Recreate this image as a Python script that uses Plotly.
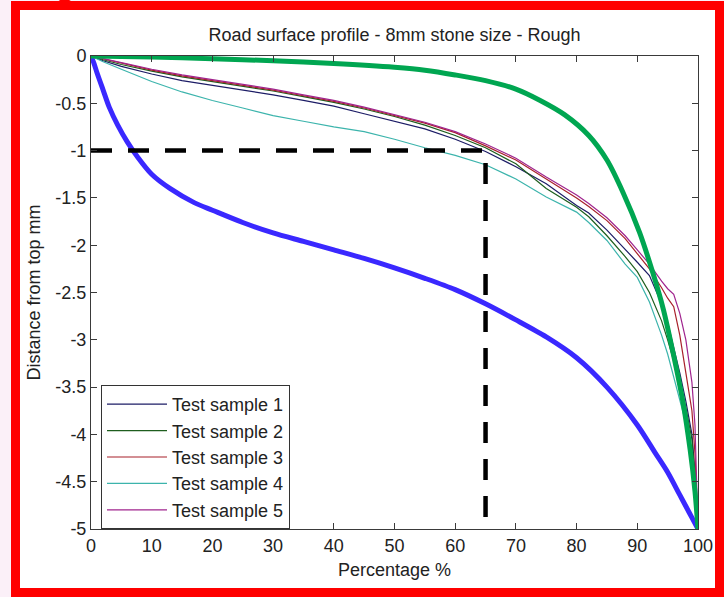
import plotly.graph_objects as go

# ---------------- data ----------------
title_text = "Road surface profile - 8mm stone size - Rough"
x_label = "Percentage %"
y_label = "Distance from top mm"

x_tick_vals = [0, 10, 20, 30, 40, 50, 60, 70, 80, 90, 100]
x_tick_text = ["0", "10", "20", "30", "40", "50", "60", "70", "80", "90", "100"]
y_tick_vals = [0, -0.5, -1, -1.5, -2, -2.5, -3, -3.5, -4, -4.5, -5]
y_tick_text = ["0", "-0.5", "-1", "-1.5", "-2", "-2.5", "-3", "-3.5", "-4", "-4.5", "-5"]

sample_x = [0, 2, 5, 10, 15, 20, 25, 30, 35, 40, 45, 50, 55, 60, 65, 70, 75, 80,
            82, 85, 88, 90, 92, 94, 95, 96, 97, 98, 99, 99.5, 100]
sample_names = ["Test sample 1", "Test sample 2", "Test sample 3", "Test sample 4", "Test sample 5"]
sample1 = [0, -0.05, -0.11, -0.19, -0.26, -0.31, -0.36, -0.41, -0.47, -0.53, -0.61, -0.69,
           -0.77, -0.88, -1.01, -1.17, -1.35, -1.58, -1.66, -1.84, -2.04, -2.18, -2.32, -2.62,
           -2.82, -3.08, -3.35, -3.65, -4.0, -4.4, -5]
sample2 = [0, -0.04, -0.09, -0.16, -0.22, -0.27, -0.32, -0.37, -0.43, -0.49, -0.56, -0.64,
           -0.73, -0.84, -0.97, -1.14, -1.4, -1.6, -1.7, -1.9, -2.12, -2.28, -2.5, -2.8,
           -3.0, -3.22, -3.45, -3.72, -4.05, -4.45, -5]
sample3 = [0, -0.03, -0.08, -0.15, -0.21, -0.26, -0.31, -0.36, -0.42, -0.48, -0.55, -0.63,
           -0.71, -0.81, -0.95, -1.1, -1.3, -1.5, -1.59, -1.74, -1.93, -2.09, -2.25, -2.45,
           -2.56, -2.65, -2.95, -3.35, -3.75, -4.2, -5]
sample4 = [0, -0.06, -0.14, -0.27, -0.38, -0.47, -0.55, -0.63, -0.69, -0.75, -0.8, -0.88,
           -0.97, -1.05, -1.15, -1.3, -1.49, -1.65, -1.76, -1.95, -2.2, -2.34, -2.6, -2.95,
           -3.15, -3.4, -3.62, -3.88, -4.2, -4.5, -5]
sample5 = [0, -0.03, -0.07, -0.14, -0.2, -0.25, -0.3, -0.35, -0.41, -0.47, -0.54, -0.62,
           -0.7, -0.8, -0.93, -1.08, -1.28, -1.47, -1.56, -1.71, -1.9, -2.05, -2.2, -2.38,
           -2.46, -2.52, -2.72, -3.0, -3.45, -3.9, -5]

blue_x = [0, 0.5, 1, 2, 3, 4.4, 6, 7.7, 10, 13, 17, 20, 25, 30, 35, 40, 45, 50, 55,
          60, 65, 70, 75, 80, 85, 90, 93, 95, 97, 98, 99, 100]
blue_y = [0, -0.08, -0.18, -0.36, -0.54, -0.73, -0.91, -1.07, -1.25, -1.4, -1.55, -1.63,
          -1.76, -1.87, -1.96, -2.05, -2.14, -2.24, -2.35, -2.47, -2.62, -2.79, -2.97, -3.19,
          -3.5, -3.9, -4.2, -4.4, -4.64, -4.76, -4.88, -5]

green_x = [0, 10, 20, 30, 40, 50, 55, 60, 65, 70, 74, 78, 82, 85, 87.7, 90.4, 92.6, 94.3,
           95.9, 97.5, 98.7, 99.5, 100]
green_y = [0, -0.01, -0.03, -0.05, -0.08, -0.12, -0.15, -0.2, -0.26, -0.35, -0.47, -0.62,
           -0.84, -1.1, -1.45, -1.87, -2.3, -2.68, -3.14, -3.65, -4.16, -4.6, -5]

ref_x = [0, 65, 65]
ref_y = [-1, -1, -5]

# ---------------- styles ----------------
sample_colors = ["#1c1c66", "#1e5e1e", "#a8202a", "#3cb4ac", "#a0248e"]
FONT = "Liberation Sans, Arial, Helvetica, sans-serif"

fig = go.Figure()
for name, ys, col in zip(sample_names, [sample1, sample2, sample3, sample4, sample5], sample_colors):
    fig.add_trace(go.Scatter(x=sample_x, y=ys, mode="lines", name=name,
                             legendgroup=name,
                             line=dict(color=col, width=1.2)))

fig.add_trace(go.Scatter(x=blue_x, y=blue_y, mode="lines", showlegend=False,
                         line=dict(color="#3a28ff", width=5, shape="spline", smoothing=0.8)))
fig.add_trace(go.Scatter(x=green_x, y=green_y, mode="lines", showlegend=False,
                         line=dict(color="#00a651", width=5, shape="spline", smoothing=0.8)))
fig.add_trace(go.Scatter(x=ref_x, y=ref_y, mode="lines", showlegend=False,
                         line=dict(color="black", width=4.5, dash="21px,16px")))

L, R, T, B = 91, 26, 56, 68
W, H = 724, 597
plot_h = H - T - B

axis_common = dict(showgrid=False, zeroline=False, showline=True, linecolor="#3a3a3a",
                   linewidth=1, mirror="ticks", ticks="inside", ticklen=6,
                   tickcolor="#3a3a3a", tickfont=dict(family=FONT, size=18, color="#222"))

fig.update_layout(
    width=W, height=H,
    margin=dict(l=L, r=R, t=T, b=B, autoexpand=False),
    paper_bgcolor="#fbf0f8", plot_bgcolor="white",
    title=dict(text=title_text, x=(L + (W - L - R) / 2) / W, xanchor="center",
               y=1 - 35 / H, yanchor="middle", yref="container",
               font=dict(family=FONT, size=18, color="#222")),
    xaxis=dict(range=[0, 100], tickvals=x_tick_vals, ticktext=x_tick_text,
               title=dict(text=x_label, standoff=8, font=dict(family=FONT, size=18, color="#222")),
               **axis_common),
    yaxis=dict(range=[-5, 0], tickvals=y_tick_vals, ticktext=y_tick_text,
               title=dict(text=y_label, standoff=10, font=dict(family=FONT, size=18, color="#222")),
               **axis_common),
    legend=dict(x=(101 - L) / (W - L - R), y=(529 - 385) / plot_h, xanchor="left", yanchor="top",
                bgcolor="white", bordercolor="#333", borderwidth=1, tracegroupgap=0,
                itemwidth=60,
                font=dict(family=FONT, size=18, color="#222")),
    showlegend=True,
    shapes=[
        # white page inside the red frame
        dict(type="rect", xref="paper", yref="paper", xsizemode="pixel", ysizemode="pixel",
             xanchor=0, yanchor=0, x0=15.5 - L, x1=719.5 - L, y0=-(592.5 - 529), y1=529 - 5.5,
             line=dict(color="#ff0000", width=9), fillcolor="white", layer="below"),
        dict(type="line", xref="paper", yref="paper", xsizemode="pixel", ysizemode="pixel",
             xanchor=0, yanchor=0, x0=60 - L, x1=75 - L, y0=529 + 2, y1=529 - 6,
             line=dict(color="#ff0000", width=5), layer="below"),
    ],
)

fig.write_html("out.html")
